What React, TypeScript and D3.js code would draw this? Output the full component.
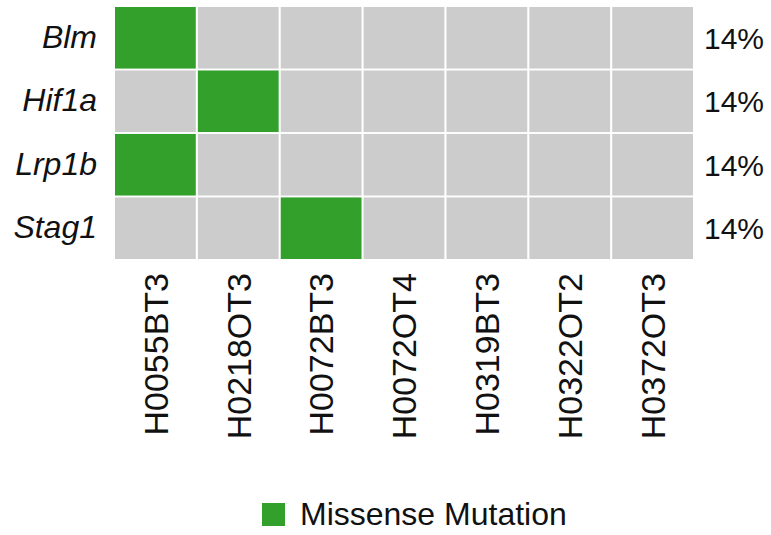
import React from "react";
import * as d3 from "d3";

const genes = ["Blm", "Hif1a", "Lrp1b", "Stag1"];
const samples = ["H0055BT3", "H0218OT3", "H0072BT3", "H0072OT4", "H0319BT3", "H0322OT2", "H0372OT3"];
// [gene, sample] pairs carrying a missense mutation
const missense: [string, string][] = [
  ["Blm", "H0055BT3"],
  ["Hif1a", "H0218OT3"],
  ["Lrp1b", "H0055BT3"],
  ["Stag1", "H0072BT3"],
];
const legendLabels = ["Missense Mutation"];

const W = 771;
const H = 535;
const FONT = "'Liberation Sans', Arial, Helvetica, sans-serif";
const GREEN = "#33a02c";
const GRAY = "#cccccc";

export default function App() {
  const x = d3.scaleBand<string>().domain(samples).range([115, 693]).paddingInner(0.025).paddingOuter(0);
  const y = d3.scaleBand<string>().domain(genes).range([7, 259]).paddingInner(0.03).paddingOuter(0);
  const isMut = (g: string, s: string) => missense.some(([mg, ms]) => mg === g && ms === s);
  const pct = (g: string) => {
    const n = missense.filter(([mg]) => mg === g).length;
    return `${d3.format(".0f")((n / samples.length) * 100)}%`;
  };

  return (
    <svg width={W} height={H} style={{ display: "block", position: "absolute", left: 0, top: 0, background: "#fff" }}>
      <g>
        {genes.map((g) =>
          samples.map((s) => (
            <rect
              key={g + s}
              x={x(s)}
              y={y(g)}
              width={x.bandwidth()}
              height={y.bandwidth()}
              fill={isMut(g, s) ? GREEN : GRAY}
            />
          ))
        )}
      </g>
      <g fontFamily={FONT} fill="#111">
        {genes.map((g) => (
          <text key={g} x={97} y={(y(g) as number) + y.bandwidth() / 2} dy="0.31em" textAnchor="end" fontStyle="italic" fontSize={32}>
            {g}
          </text>
        ))}
        {genes.map((g) => (
          <text key={"p" + g} x={704} y={(y(g) as number) + y.bandwidth() / 2} dy="0.36em" fontSize={30}>
            {pct(g)}
          </text>
        ))}
      </g>
      <g fontFamily={FONT} fontSize={34} fill="#111">
        {samples.map((s) => {
          const cx = (x(s) as number) + x.bandwidth() / 2;
          return (
            <text key={s} transform={`translate(${cx},273) rotate(-90)`} dy="0.36em" textAnchor="end">
              {s}
            </text>
          );
        })}
      </g>
      <g fontFamily={FONT} fontSize={32} fill="#111">
        {legendLabels.map((l) => (
          <g key={l}>
            <rect x={262} y={503} width={23} height={23} fill={GREEN} />
            <text x={300} y={525}>
              {l}
            </text>
          </g>
        ))}
      </g>
    </svg>
  );
}
